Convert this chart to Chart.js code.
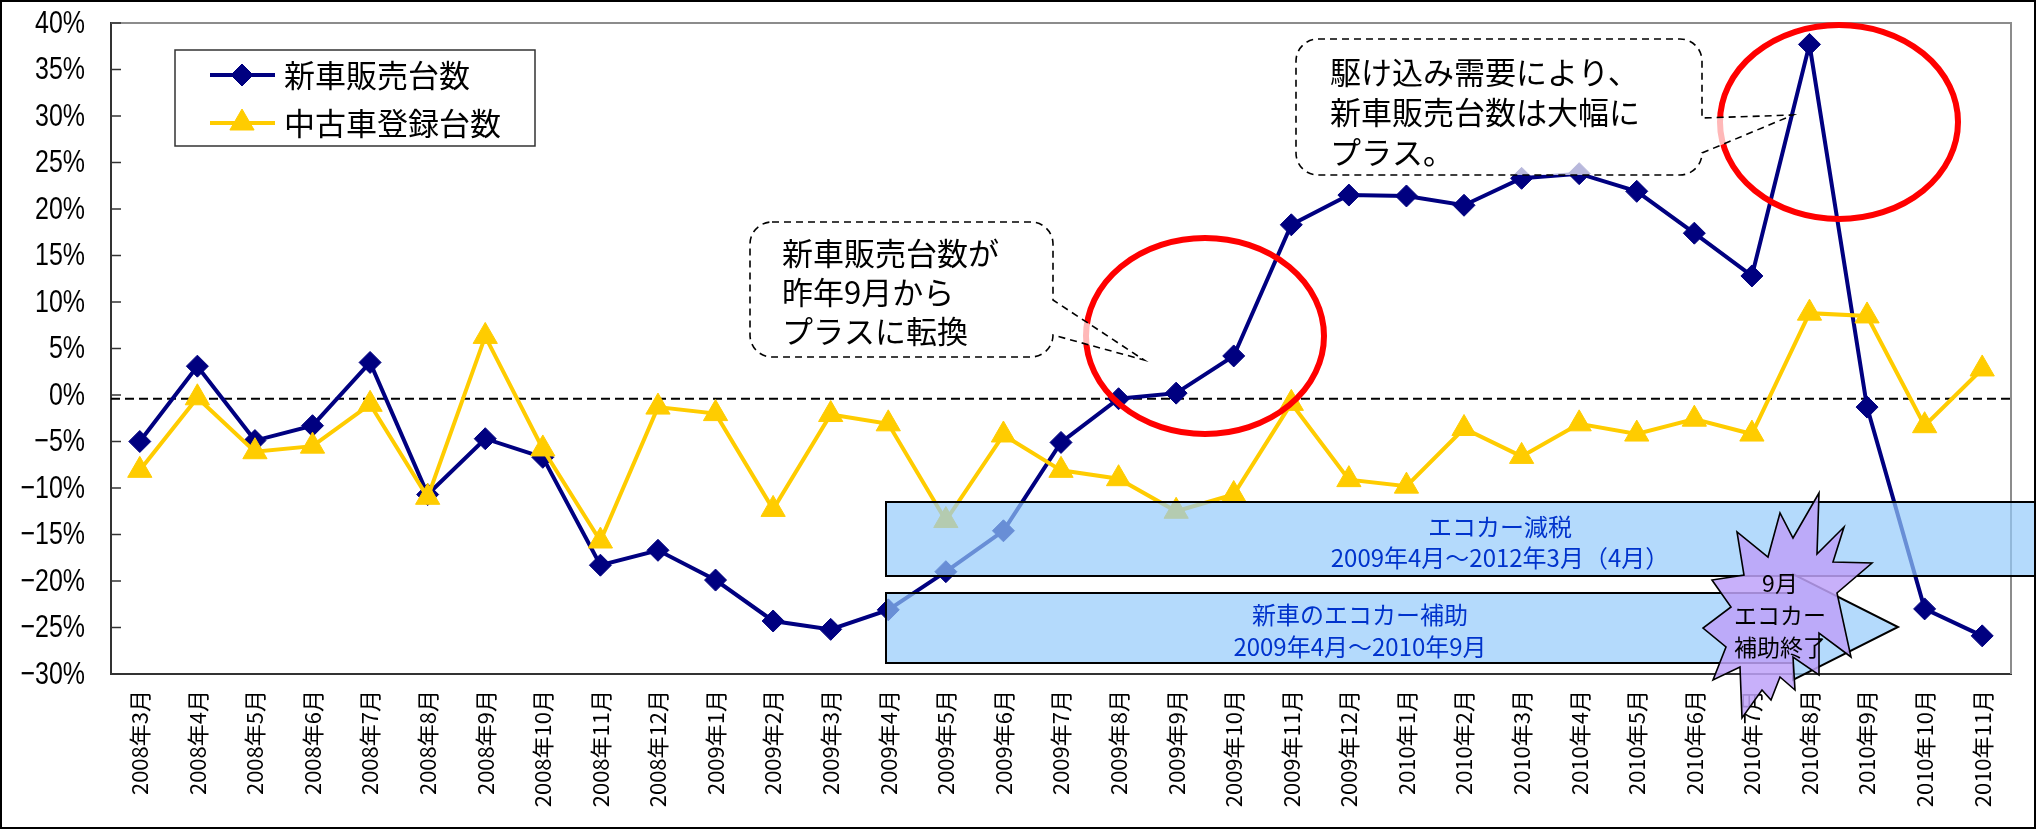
<!DOCTYPE html>
<html><head><meta charset="utf-8">
<script src="https://cdn.jsdelivr.net/npm/chart.js@4/dist/chart.umd.min.js"></script>
<style>html,body{margin:0;padding:0;background:#fff;}canvas{display:block;}</style>
</head><body>
<canvas id="c" width="2036" height="829"></canvas>
<script>
// ---- data ----
const categories = [
  '2008年3月','2008年4月','2008年5月','2008年6月','2008年7月','2008年8月','2008年9月','2008年10月','2008年11月','2008年12月',
  '2009年1月','2009年2月','2009年3月','2009年4月','2009年5月','2009年6月','2009年7月','2009年8月','2009年9月','2009年10月','2009年11月','2009年12月',
  '2010年1月','2010年2月','2010年3月','2010年4月','2010年5月','2010年6月','2010年7月','2010年8月','2010年9月','2010年10月','2010年11月'
];
const newCarSales = [
  -5.0, 3.1, -4.9, -3.3, 3.5, -10.7, -4.7, -6.7, -18.3, -16.7,
  -19.9, -24.3, -25.2, -23.1, -19.0, -14.6, -5.1, -0.4, 0.2, 4.2, 18.3, 21.5,
  21.4, 20.4, 23.3, 23.8, 21.9, 17.4, 12.8, 37.7, -1.3, -23.0, -25.9
];
const usedCarRegistrations = [
  -8.1, -0.3, -6.1, -5.5, -1.0, -11.0, 6.3, -5.8, -15.7, -1.3,
  -2.0, -12.3, -2.1, -3.1, -13.5, -4.3, -8.1, -9.0, -12.5, -10.7, -0.9, -9.1,
  -9.8, -3.6, -6.6, -3.1, -4.2, -2.6, -4.2, 8.8, 8.5, -3.3, 2.8
];
const seriesNames = ['新車販売台数', '中古車登録台数'];
const yMin = -30, yMax = 40, yStep = 5;
const referenceLine = -0.4;
const callout1Lines = ['新車販売台数が', '昨年9月から', 'プラスに転換'];
const callout2Lines = ['駆け込み需要により、', '新車販売台数は大幅に', 'プラス。'];
const box1Lines = ['エコカー減税', '2009年4月～2012年3月（4月）'];
const box2Lines = ['新車のエコカー補助', '2009年4月～2010年9月'];
const burstLines = ['9月', 'エコカー', '補助終了'];

const JP = '"Noto Sans CJK JP", "Noto Sans", sans-serif';
const fmtPct = v => (v < 0 ? '\u2212' + Math.abs(v) : String(v)) + '%';

function textLines(ctx, lines, x, y0, dy, font, color, align) {
  ctx.font = font; ctx.fillStyle = color; ctx.textAlign = align; ctx.textBaseline = 'middle';
  lines.forEach((l, i) => ctx.fillText(l, x, y0 + i * dy));
}
function callout(ctx, x0, y0, x1, y1, r, pa, pb, tx, ty) {
  ctx.beginPath();
  ctx.moveTo(x0 + r, y0);
  ctx.lineTo(x1 - r, y0);
  ctx.arcTo(x1, y0, x1, y0 + r, r);
  ctx.lineTo(x1, pa);
  ctx.lineTo(tx, ty);
  ctx.lineTo(x1, pb);
  ctx.lineTo(x1, y1 - r);
  ctx.arcTo(x1, y1, x1 - r, y1, r);
  ctx.lineTo(x0 + r, y1);
  ctx.arcTo(x0, y1, x0, y1 - r, r);
  ctx.lineTo(x0, y0 + r);
  ctx.arcTo(x0, y0, x0 + r, y0, r);
  ctx.closePath();
  ctx.fillStyle = 'rgba(255,255,255,0.72)'; ctx.fill();
  ctx.setLineDash([7, 5]); ctx.lineWidth = 1.6; ctx.strokeStyle = '#000'; ctx.stroke(); ctx.setLineDash([]);
}

const annotations = {
  id: 'annotations',
  beforeDatasetsDraw(chart) {
    const { ctx, chartArea: a, scales: { y } } = chart;
    ctx.save();
    ctx.strokeStyle = '#8c8c8c'; ctx.lineWidth = 2;
    ctx.beginPath(); ctx.moveTo(a.left, a.top); ctx.lineTo(a.right, a.top); ctx.lineTo(a.right, a.bottom); ctx.stroke();
    // inside tick marks and (condensed) tick labels of the value axis
    y.ticks.forEach((t, i) => {
      const py = y.getPixelForTick(i);
      ctx.strokeStyle = '#333'; ctx.lineWidth = 1.5;
      ctx.beginPath(); ctx.moveTo(a.left, py); ctx.lineTo(a.left + 10, py); ctx.stroke();
      ctx.save();
      ctx.translate(a.left - 26, py);
      ctx.scale(0.78, 1);
      ctx.font = '32px "Liberation Sans", Arial, sans-serif';
      ctx.fillStyle = '#000'; ctx.textAlign = 'right'; ctx.textBaseline = 'middle';
      ctx.fillText(fmtPct(t.value), 0, 1);
      ctx.restore();
    });
    const yz = y.getPixelForValue(referenceLine);
    ctx.setLineDash([9, 5]); ctx.lineWidth = 2; ctx.strokeStyle = '#000';
    ctx.beginPath(); ctx.moveTo(a.left, yz); ctx.lineTo(a.right, yz); ctx.stroke();
    ctx.restore();
  },
  afterDraw(chart) {
    const { ctx } = chart;
    ctx.save();
    // red ellipses
    ctx.strokeStyle = '#ff0000'; ctx.lineWidth = 6;
    ctx.beginPath(); ctx.ellipse(1205, 336, 119, 98, 0, 0, Math.PI * 2); ctx.stroke();
    ctx.beginPath(); ctx.ellipse(1839, 122, 119, 97, 0, 0, Math.PI * 2); ctx.stroke();
    // callouts
    callout(ctx, 750, 222, 1053, 357, 22, 300, 335, 1144, 360);
    textLines(ctx, callout1Lines, 782, 253, 39, '31px ' + JP, '#000', 'left');
    callout(ctx, 1296, 39, 1702, 175, 22, 118, 153, 1793, 115);
    textLines(ctx, callout2Lines, 1330, 72, 40, '31px ' + JP, '#000', 'left');
    // boxes
    ctx.fillStyle = 'rgba(148,202,251,0.7)'; ctx.strokeStyle = '#000'; ctx.lineWidth = 2;
    ctx.beginPath(); ctx.rect(886, 502, 1200, 74); ctx.fill(); ctx.stroke();
    textLines(ctx, box1Lines, 1500, 527, 31, '24px ' + JP, '#0033cc', 'center');
    ctx.fillStyle = 'rgba(148,202,251,0.7)';
    ctx.beginPath();
    ctx.moveTo(886, 593); ctx.lineTo(1793, 593); ctx.lineTo(1793, 574); ctx.lineTo(1898, 627);
    ctx.lineTo(1793, 680); ctx.lineTo(1793, 663); ctx.lineTo(886, 663); ctx.closePath();
    ctx.fill(); ctx.stroke();
    textLines(ctx, box2Lines, 1360, 615, 32, '24px ' + JP, '#0033cc', 'center');
    // starburst
    const burst = [[1819,493],[1817,554],[1844,527],[1833,562],[1872,563],[1837,593],[1851,657],[1819,633],[1819,675],[1793,657],[1795,690],[1780,677],[1771,700],[1762,690],[1742,718],[1740,667],[1713,680],[1726,647],[1703,628],[1731,607],[1712,580],[1744,575],[1737,532],[1768,557],[1780,513],[1793,538]];
    ctx.beginPath(); burst.forEach((p, i) => i ? ctx.lineTo(p[0], p[1]) : ctx.moveTo(p[0], p[1])); ctx.closePath();
    ctx.fillStyle = 'rgba(190,162,249,0.85)'; ctx.fill(); ctx.lineWidth = 1.6; ctx.strokeStyle = '#000'; ctx.stroke();
    textLines(ctx, burstLines, 1780, 583, 32, '23px ' + JP, '#000', 'center');
    // legend
    ctx.fillStyle = '#fff'; ctx.strokeStyle = '#333'; ctx.lineWidth = 1.5;
    ctx.beginPath(); ctx.rect(175, 50, 360, 96); ctx.fill(); ctx.stroke();
    chart.data.datasets.forEach((ds, i) => {
      const ly = 75 + i * 48;
      ctx.strokeStyle = ds.borderColor; ctx.lineWidth = ds.borderWidth;
      ctx.beginPath(); ctx.moveTo(210, ly); ctx.lineTo(275, ly); ctx.stroke();
      ctx.fillStyle = ds.backgroundColor; ctx.strokeStyle = ds.borderColor; ctx.lineWidth = 1;
      Chart.helpers.drawPoint(ctx, { pointStyle: ds.pointStyle, radius: ds.pointRadius, rotation: 0, borderWidth: 1 }, 242, ly);
      ctx.font = '31px ' + JP; ctx.fillStyle = '#000'; ctx.textAlign = 'left'; ctx.textBaseline = 'middle';
      ctx.fillText(ds.label, 284, ly);
    });
    // outer frame
    ctx.strokeStyle = '#000'; ctx.lineWidth = 2;
    ctx.strokeRect(1, 1, chart.width - 2, chart.height - 2);
    ctx.restore();
  }
};

new Chart(document.getElementById('c'), {
  type: 'line',
  data: {
    labels: categories,
    datasets: [
      { label: seriesNames[0], data: newCarSales, borderColor: '#000080', backgroundColor: '#000080',
        borderWidth: 4, pointStyle: 'rectRot', pointRadius: 11, pointBorderWidth: 1, tension: 0, order: 1 },
      { label: seriesNames[1], data: usedCarRegistrations, borderColor: '#ffcc00', backgroundColor: '#ffcc00',
        borderWidth: 4, pointStyle: 'triangle', pointRadius: 14, pointBorderWidth: 1, tension: 0, order: 0 }
    ]
  },
  options: {
    responsive: false, animation: false, devicePixelRatio: 1,
    layout: { padding: { top: 23, right: 25, left: 0, bottom: 0 } },
    plugins: { legend: { display: false }, tooltip: { enabled: false } },
    scales: {
      x: {
        offset: true,
        grid: { display: false, drawTicks: false },
        border: { display: true, color: '#333', width: 2 },
        ticks: { autoSkip: false, minRotation: 90, maxRotation: 90, padding: 16, color: '#000', font: { family: JP, size: 22 } },
        afterFit(s) { s.height = 155; s.paddingLeft = 0; s.paddingRight = 0; }
      },
      y: {
        min: yMin, max: yMax,
        grid: { display: false, drawTicks: false },
        border: { display: true, color: '#333', width: 2 },
        ticks: { display: false, stepSize: yStep, callback: fmtPct },
        afterFit(s) { s.width = 111; s.paddingTop = 0; s.paddingBottom = 0; }
      }
    }
  },
  plugins: [annotations]
});
</script>
</body></html>
